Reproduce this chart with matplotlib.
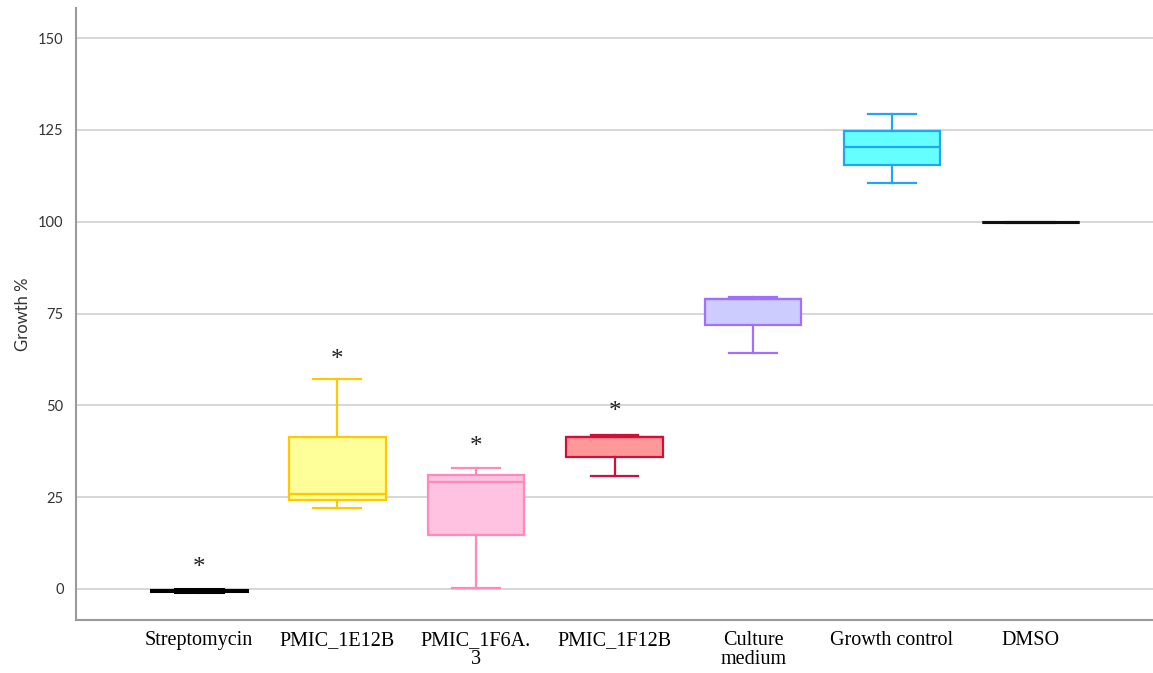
import matplotlib.pyplot as plt

# five-number summaries per treatment (growth %)
groups = ['Streptomycin', 'PMIC_1E12B', 'PMIC_1F6A.\n3', 'PMIC_1F12B',
          'Culture\nmedium', 'Growth control', 'DMSO']
whisker_low = [-0.9, 22.0, 0.4, 30.8, 64.3, 110.6, 100.0]
q1 = [-0.6, 24.1, 14.8, 36.0, 71.8, 115.4, 100.0]
medians = [-0.4, 25.9, 29.2, 41.5, 79.0, 120.3, 100.0]
q3 = [-0.2, 41.5, 31.0, 41.5, 79.0, 124.8, 100.0]
whisker_high = [0.0, 57.3, 33.0, 41.8, 79.4, 129.3, 100.0]

# groups flagged as significant and the height of the asterisk
star_groups = [0, 1, 2, 3]
star_heights = [5.7, 62.3, 38.8, 48.2]

face_colors = ['#000000', '#FFFF99', '#FFC2E0', '#FF9999', '#CCCCFF', '#66FFFF', '#000000']
edge_colors = ['#000000', '#FFC800', '#FF8AB8', '#D0103A', '#A070FF', '#22A6F2', '#111111']

fig = plt.figure(figsize=(11.53, 6.73), dpi=100)
ax = fig.add_axes([0.066, 0.079, 0.934, 0.909])

stats = []
for i in range(len(groups)):
    stats.append(dict(whislo=whisker_low[i], q1=q1[i], med=medians[i],
                      q3=q3[i], whishi=whisker_high[i], fliers=[]))

for i, s in enumerate(stats):
    thick = 2.2 if face_colors[i] == '#000000' else 1.6
    ax.bxp([s], positions=[i], widths=0.695, patch_artist=True,
           showfliers=False,
           boxprops=dict(facecolor=face_colors[i], edgecolor=edge_colors[i], linewidth=thick),
           medianprops=dict(color=edge_colors[i], linewidth=thick),
           whiskerprops=dict(color=edge_colors[i], linewidth=thick),
           capprops=dict(color=edge_colors[i], linewidth=thick),
           capwidths=0.345, zorder=3)

for g, h in zip(star_groups, star_heights):
    ax.text(g, h, '*', ha='center', va='center', fontsize=18,
            family='Liberation Serif', color='#222222')

ax.set_xlim(-0.885, 6.885)
ax.set_ylim(-8.4, 158.2)
ax.set_yticks([0, 25, 50, 75, 100, 125, 150])
ax.set_xticks(range(len(groups)))
ax.set_xticklabels(groups, family='Liberation Serif', fontsize=14.5,
                   linespacing=1.0, va='top')
for lbl in ax.get_yticklabels():
    lbl.set_family('Lato')
    lbl.set_fontsize(10.5)
    lbl.set_color('#333333')
ax.tick_params(axis='both', length=0)
ax.tick_params(axis='y', pad=9)
ax.tick_params(axis='x', pad=8)
ax.set_ylabel('Growth %', family='Lato', fontsize=12, color='#333333', labelpad=5)

ax.yaxis.grid(True, color='#d6d6d6', linewidth=1.4, zorder=0)
ax.set_axisbelow(True)
for side in ['top', 'right']:
    ax.spines[side].set_visible(False)
for side in ['left', 'bottom']:
    ax.spines[side].set_color('#9a9a9a')
    ax.spines[side].set_linewidth(1.5)

fig.savefig('out.png', dpi=100)
